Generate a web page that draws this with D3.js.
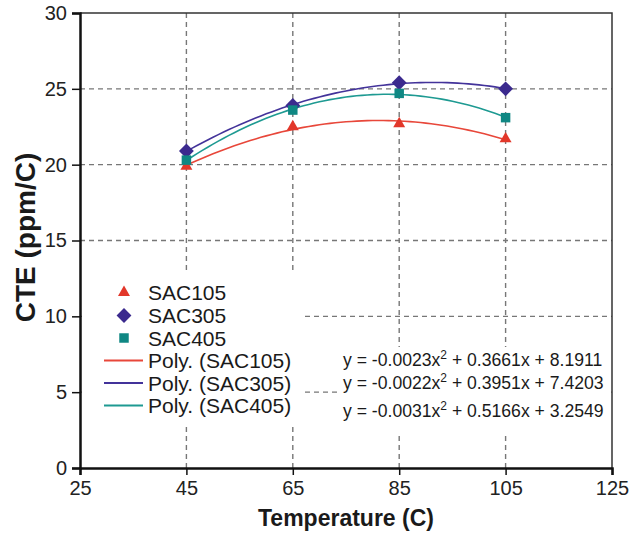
<!DOCTYPE html>
<html>
<head>
<meta charset="utf-8">
<script src="https://cdn.jsdelivr.net/npm/d3@7"></script>
<style>
    body { margin: 0; background: #fff; }
    svg { display: block; font-family: "Liberation Sans", Arial, Helvetica, sans-serif; }
</style>
</head>
<body>
<script>
// values
const temps = [45, 65, 85, 105];
const sac105 = [19.9, 22.5, 22.7, 21.7];
const sac305 = [20.9, 23.9, 25.4, 25.0];
const sac405 = [20.3, 23.6, 24.7, 23.1];

const xTicks = [25, 45, 65, 85, 105, 125];
const yTicks = [0, 5, 10, 15, 20, 25, 30];
const xGrid = [45, 65, 85, 105];
const yGrid = [5, 10, 15, 20, 25];

const seriesNames = ['SAC105', 'SAC305', 'SAC405'];
const markerColors = ['#e2372a', '#3b2a8e', '#0f8783'];
const lineColors = ['#e8473a', '#43339a', '#1e9a92'];

// trendline equations as printed on the chart: [a, b, c] of a*x^2 + b*x + c
const eqA = ['-0.0023', '-0.0022', '-0.0031'];
const eqB = ['0.3661', '0.3951', '0.5166'];
const eqC = ['8.1911', '7.4203', '3.2549'];

const W = 630, H = 533;
const x = d3.scaleLinear().domain([25, 125]).range([80, 612]);
const y = d3.scaleLinear().domain([0, 30]).range([468, 13]);

const svg = d3.select('body').append('svg').attr('width', W).attr('height', H);

// grid
svg.append('g').selectAll('line').data(xGrid).join('line')
    .attr('x1', d => x(d)).attr('x2', d => x(d))
    .attr('y1', y(30)).attr('y2', y(0))
    .attr('stroke', '#777').attr('stroke-width', 1.4).attr('stroke-dasharray', '5,4');
svg.append('g').selectAll('line').data(yGrid).join('line')
    .attr('x1', x(25)).attr('x2', x(125))
    .attr('y1', d => y(d)).attr('y2', d => y(d))
    .attr('stroke', '#777').attr('stroke-width', 1.4).attr('stroke-dasharray', '5,4');

// white boxes behind legend and equations
svg.append('rect').attr('x', 82).attr('y', 273).attr('width', 223).attr('height', 152).attr('fill', '#fff');
svg.append('rect').attr('x', 338).attr('y', 347).attr('width', 273).attr('height', 85).attr('fill', '#fff');

// plot frame (top + right)
svg.append('path')
    .attr('d', `M${x(25)},${y(30)}H${x(125)}V${y(0)}`)
    .attr('fill', 'none').attr('stroke', '#333').attr('stroke-width', 1.5);

// axes
const yAxis = svg.append('g').attr('transform', `translate(${x(25)},0)`)
    .call(d3.axisLeft(y).tickValues(yTicks).tickSizeOuter(0).tickSize(8).tickPadding(5));
const xAxis = svg.append('g').attr('transform', `translate(0,${y(0)})`)
    .call(d3.axisBottom(x).tickValues(xTicks).tickSizeOuter(0).tickSize(7).tickPadding(6));
[yAxis, xAxis].forEach(g => {
    g.select('.domain').attr('stroke', '#111').attr('stroke-width', 2.5);
    g.selectAll('.tick line').attr('stroke', '#111').attr('stroke-width', 1.5);
    g.selectAll('.tick text').attr('font-size', 20).attr('fill', '#222')
        .attr('font-family', '"Liberation Sans", Arial, sans-serif');
});

// least squares quadratic through the points (what the Poly. trendline is)
function quadFit(xs, ys) {
    let s = [0, 0, 0, 0, 0], t = [0, 0, 0];
    xs.forEach((xv, i) => {
        for (let k = 0; k < 5; k++) s[k] += Math.pow(xv, k);
        for (let k = 0; k < 3; k++) t[k] += ys[i] * Math.pow(xv, k);
    });
    const m = [[s[0], s[1], s[2], t[0]], [s[1], s[2], s[3], t[1]], [s[2], s[3], s[4], t[2]]];
    for (let i = 0; i < 3; i++) {
        for (let j = i + 1; j < 3; j++) {
            const f = m[j][i] / m[i][i];
            for (let k = i; k < 4; k++) m[j][k] -= f * m[i][k];
        }
    }
    const c = [0, 0, 0];
    for (let i = 2; i >= 0; i--) {
        let v = m[i][3];
        for (let k = i + 1; k < 3; k++) v -= m[i][k] * c[k];
        c[i] = v / m[i][i];
    }
    return xv => c[0] + c[1] * xv + c[2] * xv * xv;
}

const allSeries = [sac105, sac305, sac405];
const xs = d3.range(temps[0], temps[temps.length - 1] + 0.01, 1);
const line = d3.line().x(d => x(d[0])).y(d => y(d[1]));

allSeries.forEach((vals, i) => {
    const f = quadFit(temps, vals);
    svg.append('path')
        .attr('d', line(xs.map(v => [v, f(v)])))
        .attr('fill', 'none').attr('stroke', lineColors[i]).attr('stroke-width', 1.6);
});

const symbols = [
    d3.symbol(d3.symbolTriangle, 62),
    d3.symbol(d3.symbolSquare, 110),
    d3.symbol(d3.symbolSquare, 90)
];
const rotations = [0, 45, 0];

allSeries.forEach((vals, i) => {
    svg.append('g').selectAll('path').data(vals).join('path')
        .attr('d', symbols[i])
        .attr('transform', (d, j) => `translate(${x(temps[j])},${y(d)}) rotate(${rotations[i]})`)
        .attr('fill', markerColors[i]);
});

// legend
const legendRows = [292.5, 315.5, 338, 360.5, 383, 405.5];
const legend = svg.append('g').attr('font-size', 21).attr('fill', '#1a1a1a');
seriesNames.forEach((name, i) => {
    legend.append('path')
        .attr('d', symbols[i])
        .attr('transform', `translate(124,${legendRows[i]}) rotate(${rotations[i]})`)
        .attr('fill', markerColors[i]);
    legend.append('text').attr('x', 148).attr('y', legendRows[i] + 7.5).text(name);
});
seriesNames.forEach((name, i) => {
    const ry = legendRows[i + 3];
    legend.append('line')
        .attr('x1', 104).attr('x2', 143).attr('y1', ry).attr('y2', ry)
        .attr('stroke', lineColors[i]).attr('stroke-width', 2);
    legend.append('text').attr('x', 148).attr('y', ry + 7.5).text(`Poly. (${name})`);
});

// equations
const eqBase = [366, 389, 417];
eqBase.forEach((by, i) => {
    const t = svg.append('text').attr('x', 343).attr('y', by)
        .attr('font-size', 17.6).attr('fill', '#1a1a1a');
    t.append('tspan').text(`y = ${eqA[i]}x`);
    t.append('tspan').attr('dy', -7).attr('font-size', 12).text('2');
    t.append('tspan').attr('dy', 7).text(` + ${eqB[i]}x + ${eqC[i]}`);
});

// axis titles
svg.append('text')
    .attr('x', (x(25) + x(125)) / 2).attr('y', 526)
    .attr('text-anchor', 'middle').attr('font-size', 23).attr('font-weight', 'bold')
    .attr('fill', '#1a1a1a').text('Temperature (C)');
svg.append('text')
    .attr('transform', `translate(35,${(y(0) + y(30)) / 2 - 3}) rotate(-90)`)
    .attr('text-anchor', 'middle').attr('font-size', 28).attr('font-weight', 'bold')
    .attr('fill', '#1a1a1a').text('CTE (ppm/C)');
</script>
</body>
</html>
